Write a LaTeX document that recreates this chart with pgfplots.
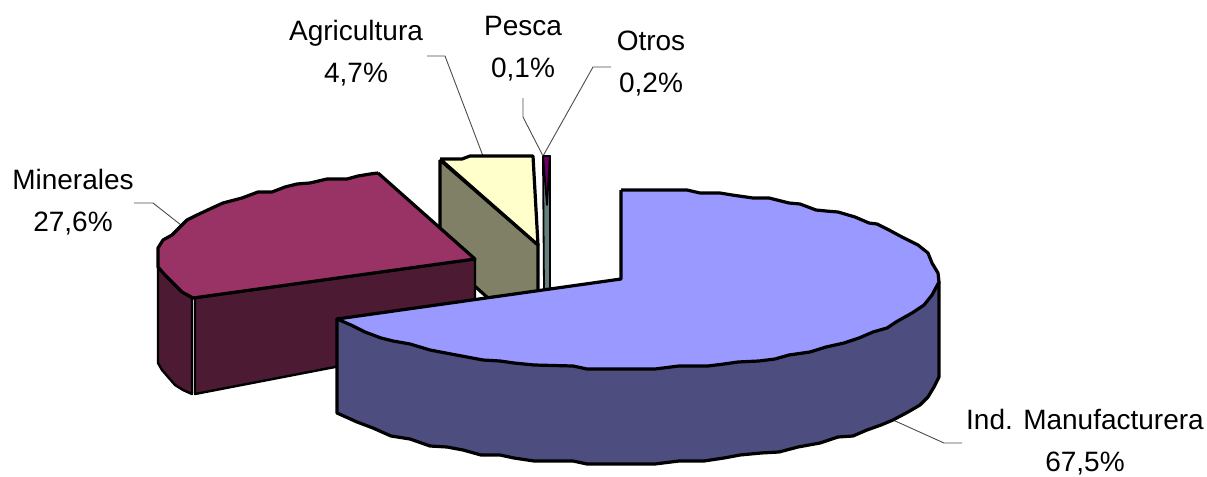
\documentclass[border=0pt]{standalone}
\usepackage{fontspec}
\setmainfont{Liberation Sans}
\usepackage{pgfplots}
\pgfplotsset{compat=1.18}
\definecolor{manuf}{HTML}{9999FF}
\definecolor{manufside}{HTML}{4D4D80}
\definecolor{miner}{HTML}{993366}
\definecolor{minerside}{HTML}{4D1A33}
\definecolor{agri}{HTML}{FFFFCC}
\definecolor{agriside}{HTML}{808066}
\definecolor{pesca}{HTML}{668080}
\definecolor{otros}{HTML}{660066}
\tikzset{lbl/.style={align=center, font=\fontsize{14}{21}\selectfont, inner sep=0pt}}
\begin{document}
\begin{tikzpicture}
\begin{axis}[
    anchor=south west, at={(0,0)},
    scale only axis, width=603.5pt, height=238.5pt,
    xmin=0, xmax=1207, ymin=0, ymax=477, y dir=reverse,
    hide axis, clip=false,
    every axis plot/.append style={no markers, line join=round, line width=1.6pt, draw=black},
]
% leader lines
\addplot[draw=black!70, line width=0.45pt] coordinates {(427,56) (445,56) (483,156)};
\addplot[draw=black!70, line width=0.45pt] coordinates {(523,98) (523,117) (543,156)};
\addplot[draw=black!70, line width=0.45pt] coordinates {(611,67) (593,67) (543,156)};
\addplot[draw=black!70, line width=0.45pt] coordinates {(134,203) (153,203) (181,225)};
\addplot[draw=black!70, line width=0.45pt] coordinates {(893,420) (944,443) (962,443)};

% Otros / Pesca slivers
\addplot[fill=pesca, line width=0.9pt] coordinates {(543,156) (550,156) (550,290) (544,290) (543,156)};
\addplot[fill=otros, line width=0.9pt] coordinates {(543,156) (550,156) (547,205) (543,156)};

% Agricultura
\addplot[fill=agriside] coordinates {(440,160) (538,245) (538,292) (488,298) (440,255) (440,160)};
\addplot[fill=agri] coordinates {(440,159) (462,159) (470,156) (533,156) (538,245) (440,159)};

% Minerales
\addplot[fill=minerside, line width=1.2pt] coordinates {(158,267) (165,275) (173,283) (182,292) (192,298) (192,394) (183,390) (175,385) (162,370) (158,363) (158,267)};
\addplot[fill=minerside, line width=1.2pt] coordinates {(195,298) (475,259) (475,340) (195,394) (195,298)};
\addplot[fill=miner] coordinates {(378,173) (370,174) (358,176) (347,179) (327,179) (310,183) (297,184) (285,187) (272,192) (258,192) (242,198) (223,203) (212,208) (197,215) (187,220) (180,227) (172,235) (163,240) (158,248) (158,267) (165,275) (173,283) (182,292) (193,298) (475,259) (378,173)};

% Ind. Manufacturera
\addplot[fill=manufside] coordinates {(939,282) (939,377) (934,387) (928,397) (920,405) (908,412) (893,420) (881,425) (867,430) (853,436) (838,437) (820,443) (798,447) (779,452) (761,453) (740,455) (724,458) (704,461) (679,461) (655,464) (587,464) (573,461) (534,461) (514,458) (500,455) (481,455) (463,450) (447,447) (430,446) (410,439) (391,436) (373,428) (357,422) (337,413) (337,319) (939,282)};
\addplot[fill=manuf] coordinates {(621,190) (687,190) (700,193) (720,193) (732,195) (753,198) (769,198) (789,203) (800,204) (816,210) (826,211) (838,212) (855,217) (869,223) (877,224) (889,230) (902,237) (918,245) (928,253) (932,263) (938,273) (939,282) (932,295) (924,305) (912,313) (896,322) (887,328) (873,332) (859,338) (844,343) (826,347) (810,352) (789,355) (775,359) (759,361) (738,362) (724,364) (708,366) (679,366) (655,369) (587,369) (573,366) (534,365) (514,363) (500,361) (483,360) (467,357) (451,354) (430,350) (410,344) (393,341) (381,338) (365,332) (351,325) (337,319) (621,279) (621,190)};

% labels
\node[lbl] at (axis cs:356,53) {Agricultura\\4,7\%};
\node[lbl] at (axis cs:523,49) {Pesca\\0,1\%};
\node[lbl] at (axis cs:651,64) {Otros\\0,2\%};
\node[lbl] at (axis cs:73,202) {Minerales\\27,6\%};
\node[lbl] at (axis cs:1085,442) {Ind. Manufacturera\\67,5\%};
\end{axis}
\pgfresetboundingbox
\path[use as bounding box] (0,0) rectangle (603.5pt,238.5pt);
\end{tikzpicture}
\end{document}
